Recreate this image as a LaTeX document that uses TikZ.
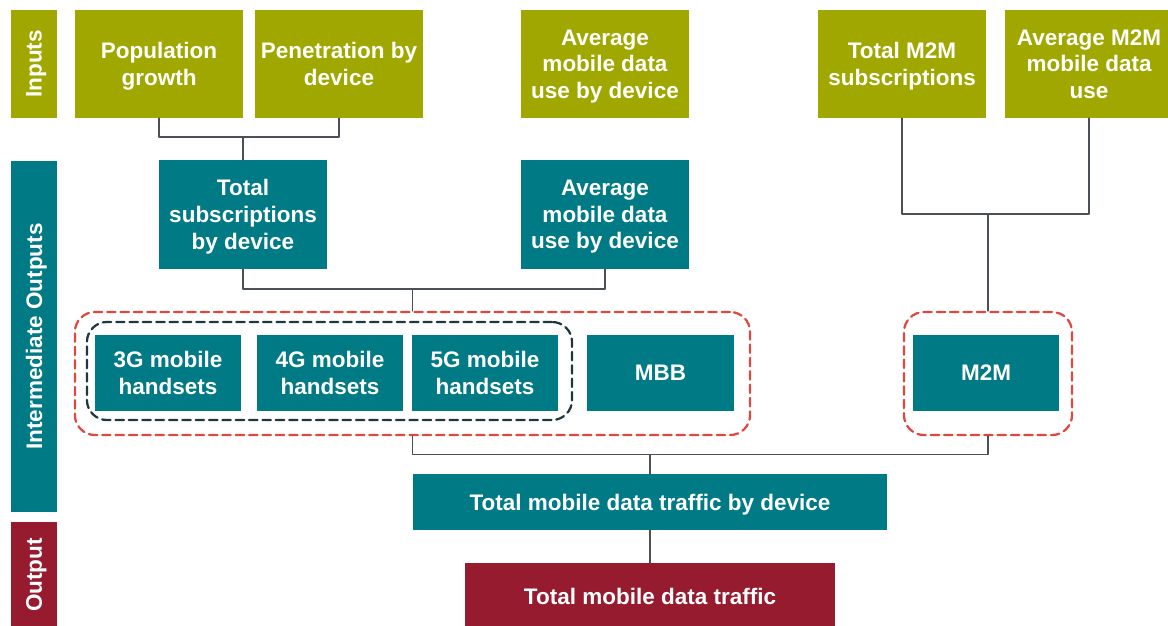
\documentclass[tikz,border=0pt]{standalone}
\usepackage{fontspec}
\setmainfont{Liberation Sans}
\usetikzlibrary{positioning}

\definecolor{ingreen}{RGB}{160,168,0}
\definecolor{midteal}{RGB}{0,122,133}
\definecolor{outred}{RGB}{150,27,46}
\definecolor{grpred}{RGB}{222,72,62}
\definecolor{grpdark}{RGB}{30,55,66}
\definecolor{linegray}{RGB}{75,80,86}

\tikzset{
	% text centred on cap height and last baseline
	block/.style={fill=#1, text=white, align=center, inner sep=0pt, text depth=0pt},
	inbox/.style={block=ingreen, minimum width=4.2cm, minimum height=2.7cm},
	midbox/.style={block=midteal, minimum width=4.2cm, minimum height=2.7cm},
	devbox/.style={block=midteal, minimum width=3.65cm, minimum height=1.9cm},
	sidebar/.style={block=#1, rotate=90, minimum height=1.15cm},
	grp/.style={draw=#1, line width=1.6pt, dash pattern=on 6pt off 3.5pt, rounded corners=0.5cm, inner sep=0pt},
	link/.style={draw=linegray, line width=1.1pt}
}

\begin{document}
\begin{tikzpicture}[x=0.025cm, y=-0.025cm, font=\bfseries\fontsize{16}{19}\selectfont, line join=round, line cap=round]
	\useasboundingbox (0,0) rectangle (1168,625);
	% row labels on the left
	\node[sidebar=ingreen, minimum width=2.7cm] (lin) at (34,64) {Inputs};
	\node[sidebar=midteal, minimum width=8.775cm] (lmid) at (34,336.5) {Intermediate Outputs};
	\node[sidebar=outred, minimum width=2.65cm] (lout) at (34,575) {Output};
	% inputs
	\node[inbox] (pop) at (159,64) {Population\\growth};
	\node[inbox] (pen) at (339,64) {Penetration by\\device};
	\node[inbox] (avgin) at (605,64) {Average\\mobile data\\use by device};
	\node[inbox] (m2msub) at (902,64) {Total M2M\\subscriptions};
	\node[inbox] (m2muse) at (1089,64) {Average M2M\\mobile data\\use};
	% intermediate outputs
	\node[midbox] (subs) at (243,214.5) {Total\\subscriptions\\by device};
	\node[midbox] (avgt) at (605,214.5) {Average\\mobile data\\use by device};
	\node[grp=grpred, minimum width=16.875cm, minimum height=3.075cm] (allgrp) at (412.5,373.5) {};
	\node[grp=grpdark, minimum width=12.125cm, minimum height=2.45cm] (hsgrp) at (329.5,371) {};
	\node[grp=grpred, minimum width=4.2cm, minimum height=3.075cm] (m2mgrp) at (988,373.5) {};
	\node[devbox] (g3) at (168,373) {3G mobile\\handsets};
	\node[devbox] (g4) at (330,373) {4G mobile\\handsets};
	\node[devbox] (g5) at (485,373) {5G mobile\\handsets};
	\node[devbox] (mbb) at (660.5,373) {MBB};
	\node[devbox] (m2m) at (986,373) {M2M};
	\node[block=midteal, minimum width=11.85cm, minimum height=1.4cm] (tdev) at (650,502) {Total mobile data traffic by device};
	% output
	\node[block=outred, minimum width=9.25cm, minimum height=1.65cm] (total) at (650,596) {Total mobile data traffic};
	% joints
	\path (subs.north) ++(0,-23) coordinate (j1);
	\path (allgrp.north) ++(0,-22) coordinate (j2);
	\path (m2mgrp.north) ++(0,-97) coordinate (j3);
	\path (tdev.north) ++(0,-19) coordinate (j4);
	% connectors
	\draw[link] (pop.south) |- (j1) -| (pen.south);
	\draw[link] (j1) -- (subs.north);
	\draw[link] (subs.south) |- (j2) -| (avgt.south);
	\draw[link] (j2) -- (allgrp.north);
	\draw[link] (m2msub.south) |- (j3) -| (m2muse.south);
	\draw[link] (j3) -- (m2mgrp.north);
	\draw[link] (allgrp.south) |- (j4) -| (m2mgrp.south);
	\draw[link] (j4) -- (tdev.north);
	\draw[link] (tdev.south) -- (total.north);
\end{tikzpicture}
\end{document}
